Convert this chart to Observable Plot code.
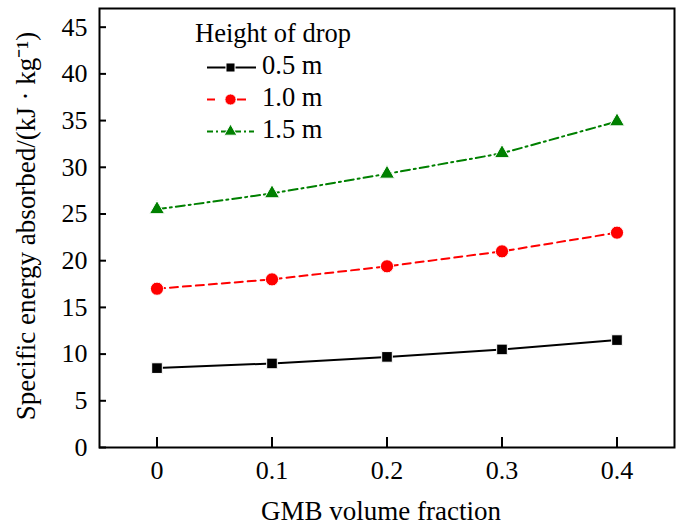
<!DOCTYPE html>
<html>
<head>
<meta charset="utf-8">
<script src="https://cdn.jsdelivr.net/npm/d3@7"></script>
<script src="https://cdn.jsdelivr.net/npm/@observablehq/plot@0.6"></script>
<style>
  html, body { margin: 0; padding: 0; background: #fff; }
  #wrap { position: relative; width: 682px; height: 528px; }
  #wrap > svg { position: absolute; left: 0; top: 0; }
</style>
</head>
<body>
<div id="wrap"></div>
<script>
const gmbFraction = [0, 0.1, 0.2, 0.3, 0.4];
const drop05 = [8.5, 9.0, 9.7, 10.5, 11.5];
const drop10 = [17.0, 18.0, 19.4, 21.0, 23.0];
const drop15 = [25.5, 27.2, 29.3, 31.5, 34.9];
const seriesNames = ["0.5 m", "1.0 m", "1.5 m"];
const legendTitle = "Height of drop";
const xTitle = "GMB volume fraction";
const yTitle = "Specific energy absorbed/(kJ · kg⁻¹)";
const xTicks = [0, 0.1, 0.2, 0.3, 0.4];
const xTickLabels = ["0", "0.1", "0.2", "0.3", "0.4"];
const yTicks = [0, 5, 10, 15, 20, 25, 30, 35, 40, 45];

const seriesValues = [drop05, drop10, drop15];
const styles = [
  {color: "#000000", dash: null, symbol: "square", r: 6.0},
  {color: "#ff0000", dash: "8,5", symbol: "circle", r: 6.6},
  {color: "#008000", dash: "9,4,2,4", symbol: "triangle", r: 5.6}
];
const rows = [];
seriesNames.forEach((s, i) => gmbFraction.forEach((x, j) => rows.push({x, y: seriesValues[i][j], s})));

const W = 682, H = 528, mL = 99, mT = 8, mR = 8, mB = 81;
const pw = W - mL - mR, ph = H - mT - mB;
const font = '"Liberation Serif", "Times New Roman", serif';

const marks = [];
seriesNames.forEach((s, i) => {
  const st = styles[i];
  const d = rows.filter(r => r.s === s);
  marks.push(Plot.line(d, {x: "x", y: "y", stroke: st.color, strokeWidth: 2, strokeDasharray: st.dash}));
});
seriesNames.forEach((s, i) => {
  const st = styles[i];
  const d = rows.filter(r => r.s === s);
  marks.push(Plot.dot(d, {x: "x", y: "y", symbol: st.symbol, r: st.r, fill: st.color, stroke: "white", strokeWidth: 1}));
});

const chart = Plot.plot({
  width: W, height: H,
  marginLeft: mL, marginTop: mT, marginRight: mR, marginBottom: mB,
  style: {fontFamily: font, fontSize: "26px", color: "black", background: "white"},
  x: {domain: [-0.05, 0.45]},
  y: {domain: [0, 47]},
  marks: [
    Plot.tickY(yTicks, {y: d => d, insetRight: pw - 7, stroke: "black", strokeWidth: 2}),
    Plot.tickX(xTicks, {x: d => d, insetTop: ph - 10, stroke: "black", strokeWidth: 2}),
    ...marks,
    Plot.frame({stroke: "black", strokeWidth: 2}),
    Plot.axisX(xTicks, {tickSize: 0, tickPadding: 13, fontSize: 26, tickFormat: (d, i) => xTickLabels[i], label: null}),
    Plot.axisY(yTicks, {tickSize: 0, tickPadding: 12, fontSize: 26, label: null}),
    Plot.text([xTitle], {frameAnchor: "bottom", text: d => d, lineAnchor: "middle", dy: 64, dx: -6, fontSize: 27}),
    Plot.text([yTitle], {frameAnchor: "left", text: d => d, rotate: -90, textAnchor: "middle", lineAnchor: "middle", dx: -73, dy: -2, fontSize: 27})
  ]
});
const wrap = document.getElementById("wrap");
wrap.appendChild(chart);

// legend overlay
const lg = d3.select(wrap).append("svg").attr("width", W).attr("height", H)
  .style("pointer-events", "none").attr("font-family", font);
lg.append("text").attr("x", 195).attr("y", 42).attr("font-size", 26.5).text(legendTitle);
const rowY = [67.5, 99.5, 131.5];
seriesNames.forEach((s, i) => {
  const st = styles[i];
  const y = rowY[i];
  if (i === 1) {
    lg.append("line").attr("x1", 207).attr("x2", 215).attr("y1", y).attr("y2", y).attr("stroke", st.color).attr("stroke-width", 2);
    lg.append("line").attr("x1", 237).attr("x2", 246).attr("y1", y).attr("y2", y).attr("stroke", st.color).attr("stroke-width", 2);
  } else {
    lg.append("line").attr("x1", 207).attr("x2", i === 0 ? 256 : 254).attr("y1", y).attr("y2", y)
      .attr("stroke", st.color).attr("stroke-width", 2).attr("stroke-dasharray", i === 2 ? "6,3,2,3" : null);
  }
  const sym = {square: d3.symbolSquare, circle: d3.symbolCircle, triangle: d3.symbolTriangle}[st.symbol];
  lg.append("path").attr("transform", `translate(230.5,${y})`)
    .attr("d", d3.symbol(sym, Math.PI * (st.r * 0.85) ** 2)())
    .attr("fill", st.color).attr("stroke", "white").attr("stroke-width", 1);
  lg.append("text").attr("x", 262).attr("y", y + 6.5).attr("font-size", 26.5).text(s);
});
</script>
</body>
</html>
